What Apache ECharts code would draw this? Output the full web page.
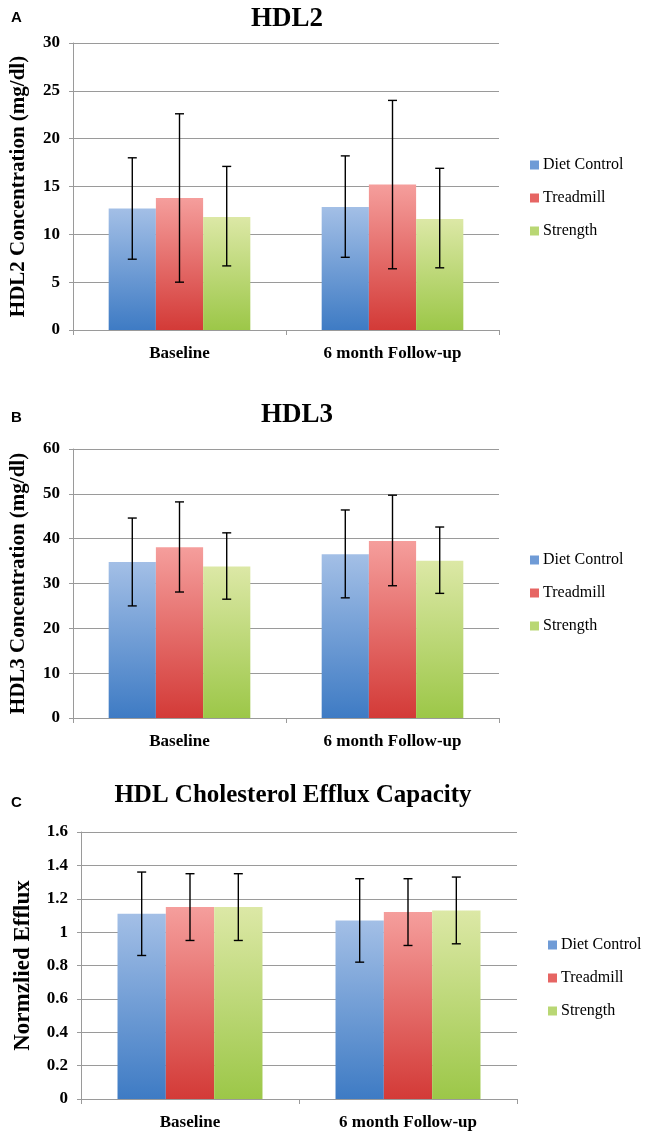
<!DOCTYPE html>
<html>
<head>
<meta charset="utf-8">
<script src="https://cdn.jsdelivr.net/npm/echarts@6/dist/echarts.min.js"></script>
<style>
html,body{margin:0;padding:0;background:#fff;}
#c{width:648px;height:1148px;}
</style>
</head>
<body>
<div id="c"></div>
<script>
// ---- data ----
const categories = ['Baseline', '6 month Follow-up'];
const groupNames = ['Diet Control', 'Treadmill', 'Strength'];
const panelTitles = ['HDL2', 'HDL3', 'HDL Cholesterol Efflux Capacity'];
const panelLetters = ['A', 'B', 'C'];
const yNames = ['HDL2 Concentration (mg/dl)', 'HDL3 Concentration (mg/dl)', 'Normzlied Efflux'];

// HDL2 (mg/dl)
const hdl2Diet = [12.7, 12.85];
const hdl2Tread = [13.8, 15.2];
const hdl2Str = [11.8, 11.6];
const hdl2DietErr = [[7.4, 18.0], [7.6, 18.2]];
const hdl2TreadErr = [[5.0, 22.6], [6.4, 24.0]];
const hdl2StrErr = [[6.7, 17.1], [6.5, 16.9]];

// HDL3 (mg/dl)
const hdl3Diet = [34.8, 36.5];
const hdl3Tread = [38.1, 39.5];
const hdl3Str = [33.8, 35.1];
const hdl3DietErr = [[25.0, 44.6], [26.8, 46.4]];
const hdl3TreadErr = [[28.1, 48.2], [29.5, 49.7]];
const hdl3StrErr = [[26.5, 41.3], [27.8, 42.6]];

// Efflux (normalized)
const effDiet = [1.11, 1.07];
const effTread = [1.15, 1.12];
const effStr = [1.15, 1.13];
const effDietErr = [[0.86, 1.36], [0.82, 1.32]];
const effTreadErr = [[0.95, 1.35], [0.92, 1.32]];
const effStrErr = [[0.95, 1.35], [0.93, 1.33]];

// y-axis ranges
const yMax = [30, 60, 1.6];
const yInterval = [5, 10, 0.2];

// ---- styling ----
const SERIF = '"Liberation Serif", "DejaVu Serif", serif';
const SANS = '"Liberation Sans", Arial, sans-serif';
const gradColors = [
  ['#a3bfe6', '#3e7bc4'],
  ['#f59e9c', '#d33a37'],
  ['#dce8a6', '#9cc748']
];
const legendColors = ['#6f9bd6', '#e66563', '#b9d774'];
const CAT_GAP = 0.335;

const panels = [
  { means: [hdl2Diet, hdl2Tread, hdl2Str], errs: [hdl2DietErr, hdl2TreadErr, hdl2StrErr] },
  { means: [hdl3Diet, hdl3Tread, hdl3Str], errs: [hdl3DietErr, hdl3TreadErr, hdl3StrErr] },
  { means: [effDiet, effTread, effStr], errs: [effDietErr, effTreadErr, effStrErr] }
];

const grids = [
  { left: 71, top: 43, width: 428, height: 287 },
  { left: 71, top: 449, width: 428, height: 269 },
  { left: 81, top: 832, width: 436, height: 267 }
];
const titlePos = [
  { x: 282, y: 1, size: 27 },
  { x: 292, y: 397, size: 27 },
  { x: 288, y: 778, size: 25 }
];
const letterPos = [[6, 5], [6, 405], [6, 790]];
const legendPos = [[530, 156], [530, 551], [548, 936]];
const nameGaps = [44, 44, 46];
const nameSizes = [21, 21, 23];

function gradient(c) {
  return new echarts.graphic.LinearGradient(0, 0, 0, 1, [
    { offset: 0, color: c[0] }, { offset: 1, color: c[1] }
  ]);
}

function errRenderer(k) {
  return function (params, api) {
    const ci = api.value(0);
    const lo = api.coord([ci, api.value(1)]);
    const hi = api.coord([ci, api.value(2)]);
    const band = api.size([1, 0])[0];
    const bw = band * (1 - CAT_GAP) / 3;
    const x = lo[0] + (k - 1) * bw;
    const cap = 4.5;
    const st = { stroke: '#000', lineWidth: 1.4 };
    return {
      type: 'group',
      children: [
        { type: 'line', shape: { x1: x, y1: lo[1], x2: x, y2: hi[1] }, style: st },
        { type: 'line', shape: { x1: x - cap, y1: lo[1], x2: x + cap, y2: lo[1] }, style: st },
        { type: 'line', shape: { x1: x - cap, y1: hi[1], x2: x + cap, y2: hi[1] }, style: st }
      ]
    };
  };
}

const option = {
  backgroundColor: '#fff',
  animation: false,
  title: [],
  legend: [],
  grid: [],
  xAxis: [],
  yAxis: [],
  series: []
};

panels.forEach((p, i) => {
  option.title.push({
    text: panelTitles[i], left: titlePos[i].x, top: titlePos[i].y, textAlign: 'center',
    textStyle: { fontFamily: SERIF, fontWeight: 'bold', fontSize: titlePos[i].size, color: '#000' }
  });
  option.title.push({
    text: panelLetters[i], left: letterPos[i][0], top: letterPos[i][1],
    textStyle: { fontFamily: SANS, fontWeight: 'bold', fontSize: 15, color: '#000' }
  });
  option.legend.push({
    orient: 'vertical', left: legendPos[i][0], top: legendPos[i][1], padding: 0,
    itemWidth: 9, itemHeight: 9, itemGap: 15, icon: 'rect',
    selectedMode: false,
    data: groupNames.map((n, k) => ({ name: n, itemStyle: { color: legendColors[k] } })),
    textStyle: { fontFamily: SERIF, fontSize: 16, color: '#000', lineHeight: 18, padding: [0, 0, 0, -1] }
  });
  option.grid.push(Object.assign({ containLabel: false }, grids[i]));
  option.xAxis.push({
    type: 'category', gridIndex: i, data: categories,
    axisLine: { lineStyle: { color: '#9a9a9a', width: 1 } },
    axisTick: { show: true, length: 5, lineStyle: { color: '#9a9a9a' } },
    axisLabel: { fontFamily: SERIF, fontWeight: 'bold', fontSize: 17, color: '#000', margin: 15 },
    splitLine: { show: false }
  });
  option.yAxis.push({
    type: 'value', gridIndex: i, min: 0, max: yMax[i], interval: yInterval[i],
    name: yNames[i], nameLocation: 'middle', nameGap: nameGaps[i], nameRotate: 90,
    nameTextStyle: { fontFamily: SERIF, fontWeight: 'bold', fontSize: nameSizes[i], color: '#000' },
    axisLine: { show: true, lineStyle: { color: '#9a9a9a', width: 1 } },
    axisTick: { show: true, length: 4, lineStyle: { color: '#9a9a9a' } },
    axisLabel: { fontFamily: SERIF, fontWeight: 'bold', fontSize: 17, color: '#000', margin: 13 },
    splitLine: { show: true, lineStyle: { color: '#9a9a9a', width: 1 } }
  });
  p.means.forEach((vals, k) => {
    option.series.push({
      type: 'bar', name: groupNames[k], xAxisIndex: i, yAxisIndex: i,
      data: vals, barGap: '0%', barCategoryGap: (CAT_GAP * 100) + '%',
      itemStyle: { color: gradient(gradColors[k]) },
      emphasis: { disabled: true }
    });
  });
  p.errs.forEach((errs, k) => {
    option.series.push({
      type: 'custom', name: groupNames[k] + ' error', xAxisIndex: i, yAxisIndex: i,
      renderItem: errRenderer(k),
      data: errs.map((e, ci) => [ci, e[0], e[1]]),
      encode: { x: 0, y: [1, 2] },
      z: 10, silent: true
    });
  });
});

const chart = echarts.init(document.getElementById('c'), null, { renderer: 'canvas' });
chart.setOption(option);
</script>
</body>
</html>
